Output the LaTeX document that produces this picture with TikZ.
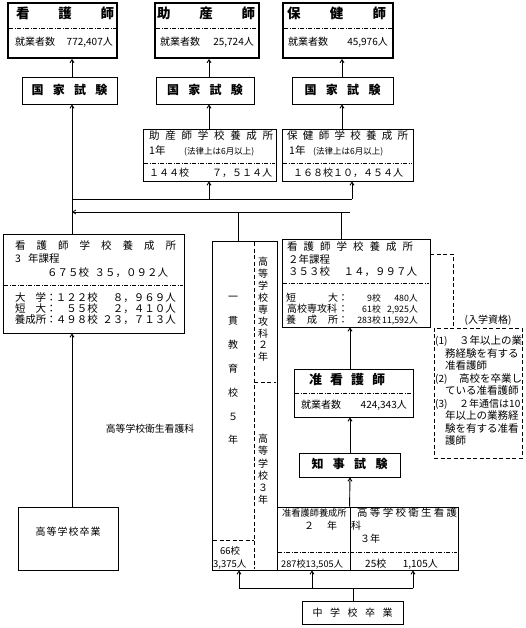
\documentclass[tikz,border=0pt]{standalone}
\usepackage{fontspec}
\setmainfont{Noto Sans CJK JP}
\usetikzlibrary{arrows.meta}
\newcommand\fs[1]{\fontsize{#1}{#1}\selectfont}
\tikzset{
  box/.style={draw, line width=0.9pt, inner sep=0pt},
  tbox/.style={draw, line width=2pt, inner sep=0pt},
  dbox/.style={draw, line width=0.8pt, dash pattern=on 4pt off 2.5pt, inner sep=0pt},
  sep/.style={line width=0.8pt, dash pattern=on 4pt off 1.5pt on 1pt off 1.5pt},
  dsh/.style={line width=0.8pt, dash pattern=on 4pt off 2.5pt},
  ln/.style={line width=0.9pt},
  arr/.style={ln, -{Straight Barb[length=3pt,width=4pt]}},
  t/.style={inner sep=0pt, anchor=west, font=\fs{10}, text height=0.86em, text depth=0.14em},
  c/.style={inner sep=0pt, font=\fs{10}, text height=0.86em, text depth=0.14em},
}
\begin{document}
\begin{tikzpicture}[x=1pt,y=-1pt]
\useasboundingbox (0,0) rectangle (525,628);
% ---------- column coordinates
\coordinate (cA) at (72,0);
\coordinate (cB) at (209,0);
\coordinate (cC) at (342,0);
\coordinate (j1) at (72,199);
\coordinate (j2) at (352,199);
\coordinate (k1) at (72,212);
\coordinate (k2) at (350,212);
\coordinate (kE) at (341,212);
\coordinate (kF) at (238,212);
\coordinate (cM) at (350,0);
\coordinate (d1) at (453,254);
\coordinate (b0) at (353,588);
\coordinate (b1) at (239,588);
\coordinate (b2) at (312,588);
\coordinate (b3) at (413,588);
% ---------- top boxes
\node[tbox, minimum width=109pt, minimum height=55pt] (kan) at (62.5,30.5) {};
\node[tbox, minimum width=104pt, minimum height=55pt] (jos) at (207,30.5) {};
\node[tbox, minimum width=110pt, minimum height=55pt] (hok) at (338,30.5) {};
\draw[sep] (9,28) -- (116,28);
\draw[sep] (156,28) -- (258,28);
\draw[sep] (284,28) -- (392,28);
\node[t, font=\bfseries\fs{13.5}] (kanT) at (16,15) {\makebox[98pt]{看\hfill 護\hfill 師}};
\node[t] (kanA) at (15,42) {就業者数};
\node[t, anchor=east] (kanB) at (113,42) {772,407人};
\node[t, font=\bfseries\fs{13.5}] (josT) at (157,15) {\makebox[98pt]{助\hfill 産\hfill 師}};
\node[t] (josA) at (160,42) {就業者数};
\node[t, anchor=east] (josB) at (254,42) {25,724人};
\node[t, font=\bfseries\fs{13.5}] (hokT) at (287,15) {\makebox[99pt]{保\hfill 健\hfill 師}};
\node[t] (hokA) at (288,42) {就業者数};
\node[t, anchor=east] (hokB) at (388,42) {45,976人};
% ---------- national exams
\node[box, minimum width=95pt, minimum height=27pt] (kkA) at (69.5,90.5) {};
\node[box, minimum width=98pt, minimum height=27pt] (kkB) at (205,90.5) {};
\node[box, minimum width=101pt, minimum height=27pt] (kkC) at (342.5,90.5) {};
\node[c, font=\bfseries\fs{12}] (kkAt) at (kkA) {\makebox[76pt]{国\hfill 家\hfill 試\hfill 験}};
\node[c, font=\bfseries\fs{12}] (kkBt) at (kkB) {\makebox[76pt]{国\hfill 家\hfill 試\hfill 験}};
\node[c, font=\bfseries\fs{12}] (kkCt) at (kkC) {\makebox[76pt]{国\hfill 家\hfill 試\hfill 験}};
% ---------- midwife / PHN schools
\node[box, minimum width=133pt, minimum height=52pt] (jsc) at (209.5,155) {};
\node[box, minimum width=131pt, minimum height=52pt] (hsc) at (347.5,155) {};
\draw[sep] (144,163) -- (275,163);
\draw[sep] (283,163) -- (412,163);
\node[t, font=\fs{10.5}] (jsc1) at (149,136) {\makebox[124pt]{助\hfill 産\hfill 師\hfill 学\hfill 校\hfill 養\hfill 成\hfill 所}};
\node[t, font=\fs{10.5}] (jsc2) at (149,151) {1年};
\node[t, font=\fs{8.5}] (jsc3) at (184,151) {(法律上は6月以上)};
\node[t, font=\fs{10}] (jsc4) at (149,173) {\makebox[123pt]{１４４校\hfill ７，５１４人}};
\node[t, font=\fs{10.5}] (hsc1) at (287,136) {\makebox[121pt]{保\hfill 健\hfill 師\hfill 学\hfill 校\hfill 養\hfill 成\hfill 所}};
\node[t, font=\fs{10.5}] (hsc2) at (289,151) {1年};
\node[t, font=\fs{8.5}] (hsc3) at (313,151) {(法律上は6月以上)};
\node[t, font=\fs{10}] (hsc4) at (293,173) {\makebox[110pt]{１６８校\hfill １０，４５４人}};
% ---------- 3-year course
\node[box, minimum width=181pt, minimum height=99pt] (san) at (93.5,283.5) {};
\draw[sep] (4,285) -- (183,285);
\node[t, font=\fs{10.5}] (san1) at (15,246) {\makebox[161pt]{看\hfill 護\hfill 師\hfill 学\hfill 校\hfill 養\hfill 成\hfill 所}};
\node[t, font=\fs{10.5}] (san2) at (15,259) {3\hspace{7pt}年課程};
\node[t, font=\fs{10.5}] (san3) at (47,273) {\makebox[121pt]{６７５校\hfill ３５，０９２人}};
\node[t, font=\fs{10.5}] (san4a) at (15,298) {\makebox[31pt]{大\hfill 学}：};
\node[t, font=\fs{10.5}, anchor=east] (san4b) at (98,298) {１２２校};
\node[t, font=\fs{10.5}, anchor=east] (san4c) at (176,298) {８，９６９人};
\node[t, font=\fs{10.5}] (san5a) at (15,309) {\makebox[31pt]{短\hfill 大}：};
\node[t, font=\fs{10.5}, anchor=east] (san5b) at (98,309) {５５校};
\node[t, font=\fs{10.5}, anchor=east] (san5c) at (176,309) {２，４１０人};
\node[t, font=\fs{10.5}] (san6a) at (15,320) {\makebox[31pt]{養成所}：};
\node[t, font=\fs{10.5}, anchor=east] (san6b) at (98,320) {４９８校};
\node[t, font=\fs{10.5}, anchor=east] (san6c) at (176,320) {２３，７１３人};
% ---------- integrated school
\node[box, minimum width=65pt, minimum height=329pt] (ik) at (244.5,405.5) {};
\draw[dsh] (254,242) -- (254,569);
\draw[dsh] (254,382) -- (276,382);
\draw[dsh] (213,540) -- (254,540);
\foreach \ch/\yy [count=\i] in {一/297,貫/321,教/345,育/369,校/393,５/417,年/440}
  \node[c] (va\i) at (233,\yy) {\ch};
\foreach \ch [count=\i] in {高,等,学,校,専,攻,科,２,年}
  \node[c] (vb\i) at (263,{262+11.9*(\i-1)}) {\ch};
\foreach \ch [count=\i] in {高,等,学,校,３,年}
  \node[c] (vc\i) at (263,{439+12.2*(\i-1)}) {\ch};
\node[t, font=\fs{9.5}] (ik1) at (220,551) {66校};
\node[t, font=\fs{9.5}] (ik2) at (213,564) {3,375人};
% ---------- 2-year course
\node[box, minimum width=148pt, minimum height=88pt] (ni) at (356,283) {};
\draw[sep] (283,283) -- (429,283);
\node[t, font=\fs{10.5}] (ni1) at (287,247) {\makebox[126pt]{看\hfill 護\hfill 師\hfill 学\hfill 校\hfill 養\hfill 成\hfill 所}};
\node[t, font=\fs{10.5}] (ni2) at (288,260) {２年課程};
\node[t, font=\fs{10.5}] (ni3) at (288,272) {\makebox[129pt]{３５３校\hfill １４，９９７人}};
\node[t] (ni4a) at (286,298) {\makebox[52pt]{短\hfill 大}：};
\node[t, font=\fs{8.8}, anchor=east] (ni4b) at (381,298) {9校};
\node[t, font=\fs{8.8}, anchor=east] (ni4c) at (418,298) {480人};
\node[t] (ni5a) at (286,308.5) {\makebox[52pt]{高校専攻科}：};
\node[t, font=\fs{8.8}, anchor=east] (ni5b) at (381,308.5) {61校};
\node[t, font=\fs{8.8}, anchor=east] (ni5c) at (418,308.5) {2,925人};
\node[t] (ni6a) at (286,319.5) {\makebox[52pt]{養\hfill 成\hfill 所}：};
\node[t, font=\fs{8.8}, anchor=east] (ni6b) at (381,319.5) {283校};
\node[t, font=\fs{8.8}, anchor=east] (ni6c) at (418,319.5) {11,592人};
% ---------- assistant nurse
\node[box, minimum width=119pt, minimum height=48pt] (jun) at (353.5,393) {};
\draw[sep] (295,393) -- (412,393);
\node[t, font=\bfseries\fs{13}] (junT) at (309,381) {\makebox[76pt]{准\hfill 看\hfill 護\hfill 師}};
\node[t] (junA) at (301,405) {就業者数};
\node[t, anchor=east] (junB) at (407,405) {424,343人};
\node[box, minimum width=101pt, minimum height=24pt] (chi) at (349.5,465) {};
\node[c, font=\bfseries\fs{12}] (chiT) at (chi) {\makebox[76pt]{知\hfill 事\hfill 試\hfill 験}};
% ---------- lower training boxes
\node[box, minimum width=73pt, minimum height=63pt] (jk) at (313.5,538.5) {};
\node[box, minimum width=108pt, minimum height=63pt] (ek) at (404,538.5) {};
\draw[sep] (278,552) -- (457,552);
\node[t, font=\fs{9.2}] (jk1) at (282,513) {准看護師養成所};
\node[c] (jk2) at (309,526) {２};
\node[c] (jk3) at (332,526) {年};
\node[t, font=\fs{9.2}] (jk4) at (281,564) {287校13,505人};
\node[t, font=\fs{10.5}] (ek1) at (357,513) {\makebox[100pt]{高\hfill 等\hfill 学\hfill 校\hfill 衛\hfill 生\hfill 看\hfill 護}};
\node[t] (ek2) at (351,526) {科};
\node[t] (ek3) at (360,539) {３年};
\node[t] (ek4) at (365,564) {25校};
\node[t, anchor=east] (ek5) at (438,564) {1,105人};
% ---------- admission box
\node[dbox, minimum width=88pt, minimum height=130pt] (nyu) at (478,393) {};
\node[c] (nyuT) at (488,320) {(入学資格)};
\node[t] (ny1a) at (435,341) {(1)};
\node[t, font=\fs{10.5}] (ny1b) at (459,341) {３年以上の業};
\node[t, font=\fs{10.5}] (ny2) at (445,353.5) {務経験を有する};
\node[t, font=\fs{10.5}] (ny3) at (445,366) {准看護師};
\node[t] (ny4a) at (435,378.5) {(2)};
\node[t, font=\fs{10.5}] (ny4b) at (459,378.5) {高校を卒業し};
\node[t, font=\fs{10.5}] (ny5) at (445,391) {ている准看護師};
\node[t] (ny6a) at (435,403.5) {(3)};
\node[t, font=\fs{10}] (ny6b) at (459,403.5) {２年通信は10};
\node[t, font=\fs{10.5}] (ny7) at (445,416) {年以上の業務経};
\node[t, font=\fs{10.5}] (ny8) at (445,428.5) {験を有する准看};
\node[t, font=\fs{10.5}] (ny9) at (445,441) {護師};
% ---------- entry boxes
\node[box, minimum width=100pt, minimum height=63pt] (kou) at (68,538.5) {};
\node[c] (kouT) at (68,532) {\makebox[65pt]{高\hfill 等\hfill 学\hfill 校\hfill 卒\hfill 業}};
\node[c, font=\fs{9.8}] (eisei) at (150,429) {高等学校衛生看護科};
\node[box, minimum width=101pt, minimum height=23pt] (chu) at (352.5,612.5) {};
\node[c] (chuT) at (chu) {\makebox[80pt]{中\hfill 学\hfill 校\hfill 卒\hfill 業}};
% ---------- connectors
\draw[arr] (kkA.north -| cA) -- (kan.south -| cA);
\draw[arr] (kkB.north -| cB) -- (jos.south -| cB);
\draw[arr] (kkC.north -| cC) -- (hok.south -| cC);
\draw[arr] (jsc.north -| cB) -- (kkB.south -| cB);
\draw[arr] (hsc.north -| cC) -- (kkC.south -| cC);
\draw[arr] (san.north -| cA) -- (kkA.south -| cA);
\draw[ln] (j1) -- (j2);
\draw[arr] (j1 -| cB) -- (jsc.south -| cB);
\draw[arr] (j2) -- (hsc.south -| j2);
\draw[arr] (k2) -- (k1);
\draw[ln] (ni.north -| kE) -- (kE);
\draw[ln] (ik.north -| kF) -- (kF);
\draw[arr] (kou.north -| cA) -- (san.south -| cA);
\draw[arr] (jun.north -| cM) -- (ni.south -| cM);
\draw[arr] (chi.north -| cM) -- (jun.south -| cM);
\draw[arr] (ek.north west) -- (chi.south -| cM);
\draw[dsh] (ni.east |- d1) -- (d1) -- (nyu.north -| d1);
\draw[ln] (chu.north -| b0) -- (b0);
\draw[ln] (b1) -- (b3);
\draw[arr] (b1) -- (ik.south -| b1);
\draw[arr] (b2) -- (jk.south -| b2);
\draw[arr] (b3) -- (ek.south -| b3);
\end{tikzpicture}
\end{document}
